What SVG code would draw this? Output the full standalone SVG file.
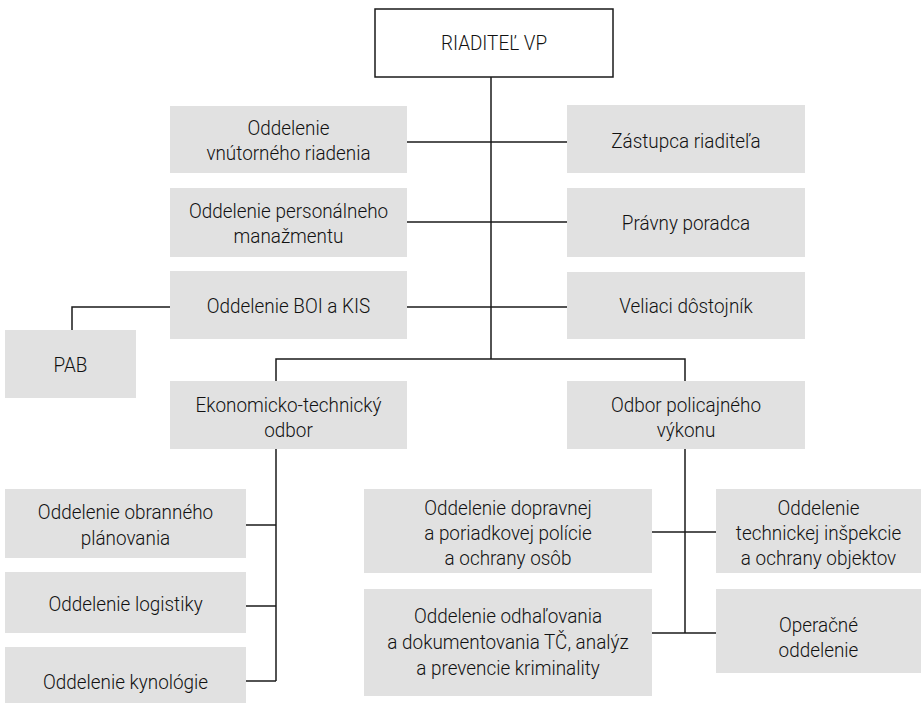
<svg xmlns="http://www.w3.org/2000/svg" width="922" height="712" viewBox="0 0 922 712">
<style>
.box{fill:#e1e1e1;stroke:none}
.top{fill:#ffffff;stroke:#1a1a1a;stroke-width:1.5}
.ln{fill:none;stroke:#1a1a1a;stroke-width:1.5}
text{font-family:Roboto,"Liberation Sans",sans-serif;font-size:21px;font-weight:300;fill:#111;text-anchor:middle;transform-box:fill-box;transform-origin:center;transform:scaleX(0.9)}
</style>
<rect width="922" height="712" fill="#ffffff"/>
<g id="connectors">
<path class="ln" d="M491 77V359"/>
<path class="ln" d="M407 142H567"/>
<path class="ln" d="M407 222H567"/>
<path class="ln" d="M407 307H567"/>
<path class="ln" d="M170 307H72V330"/>
<path class="ln" d="M276 381V359H685V381"/>
<path class="ln" d="M276 449V681"/>
<path class="ln" d="M246 525H276"/>
<path class="ln" d="M246 606H276"/>
<path class="ln" d="M246 681H276"/>
<path class="ln" d="M685 449V633"/>
<path class="ln" d="M652 532H716"/>
<path class="ln" d="M652 633H716"/>
</g>
<g id="riaditel">
<rect class="top" x="375" y="9" width="238" height="68"/>
<text x="494" y="50">RIADITEĽ VP</text>
</g>
<g id="vnutorne">
<rect class="box" x="170" y="106" width="237" height="67"/>
<text x="288.5" y="135">Oddelenie</text>
<text x="288.5" y="160">vnútorného riadenia</text>
</g>
<g id="zastupca">
<rect class="box" x="567" y="105" width="238" height="68"/>
<text x="686" y="148">Zástupca riaditeľa</text>
</g>
<g id="personalne">
<rect class="box" x="170" y="188" width="237" height="69"/>
<text x="288.5" y="218">Oddelenie personálneho</text>
<text x="288.5" y="243">manažmentu</text>
</g>
<g id="pravny">
<rect class="box" x="567" y="188" width="238" height="69"/>
<text x="686" y="230">Právny poradca</text>
</g>
<g id="boi">
<rect class="box" x="170" y="271" width="237" height="68"/>
<text x="288.5" y="313">Oddelenie BOI a KIS</text>
</g>
<g id="veliaci">
<rect class="box" x="567" y="272" width="238" height="67"/>
<text x="686" y="313">Veliaci dôstojník</text>
</g>
<g id="pab">
<rect class="box" x="5" y="330" width="131" height="68"/>
<text x="70.5" y="372">PAB</text>
</g>
<g id="ekonomicky">
<rect class="box" x="170" y="381" width="237" height="68"/>
<text x="288.5" y="412">Ekonomicko-technický</text>
<text x="288.5" y="437">odbor</text>
</g>
<g id="policajny">
<rect class="box" x="567" y="381" width="238" height="68"/>
<text x="686" y="412">Odbor policajného</text>
<text x="686" y="437">výkonu</text>
</g>
<g id="obranne">
<rect class="box" x="5" y="489" width="241" height="69"/>
<text x="125.5" y="519">Oddelenie obranného</text>
<text x="125.5" y="545">plánovania</text>
</g>
<g id="logistika">
<rect class="box" x="5" y="572" width="241" height="61"/>
<text x="125.5" y="611">Oddelenie logistiky</text>
</g>
<g id="kynologia">
<rect class="box" x="5" y="647" width="241" height="56"/>
<text x="125.5" y="689">Oddelenie kynológie</text>
</g>
<g id="dopravna">
<rect class="box" x="364" y="489" width="288" height="84"/>
<text x="508" y="515">Oddelenie dopravnej</text>
<text x="508" y="540">a poriadkovej polície</text>
<text x="508" y="565">a ochrany osôb</text>
</g>
<g id="technicka">
<rect class="box" x="716" y="489" width="205" height="84"/>
<text x="818.5" y="515">Oddelenie</text>
<text x="818.5" y="540">technickej inšpekcie</text>
<text x="818.5" y="565">a ochrany objektov</text>
</g>
<g id="odhalovanie">
<rect class="box" x="364" y="589" width="288" height="107"/>
<text x="508" y="623">Oddelenie odhaľovania</text>
<text x="508" y="649">a dokumentovania TČ, analýz</text>
<text x="508" y="675">a prevencie kriminality</text>
</g>
<g id="operacne">
<rect class="box" x="716" y="589" width="205" height="84"/>
<text x="818.5" y="632">Operačné</text>
<text x="818.5" y="657">oddelenie</text>
</g>
</svg>
